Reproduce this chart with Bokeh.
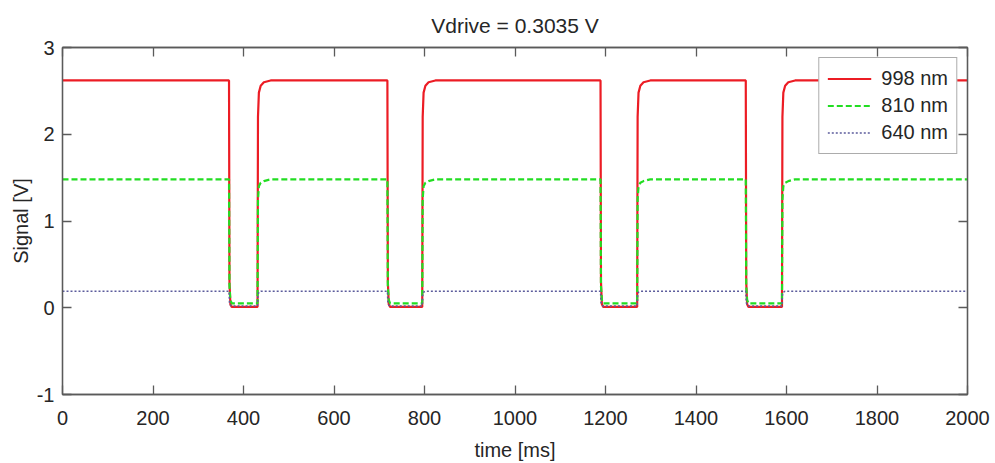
from bokeh.plotting import figure
from bokeh.models import Range1d, LinearAxis, FixedTicker, Legend, LegendItem
from bokeh.embed import file_html
from bokeh.resources import INLINE

# ---- data ----
t_ms = [0,
        368, 369, 371, 374, 431, 432, 434, 438, 445, 460,
        718, 719, 721, 724, 795, 796, 798, 802, 809, 824,
        1189, 1190, 1192, 1195, 1270, 1271, 1273, 1277, 1284, 1299,
        1510, 1511, 1513, 1516, 1590, 1591, 1593, 1597, 1604, 1619,
        2000]
sig_998 = [2.62,
           2.62, 0.30, 0.04, 0.01, 0.01, 2.20, 2.48, 2.56, 2.60, 2.62,
           2.62, 0.30, 0.04, 0.01, 0.01, 2.20, 2.48, 2.56, 2.60, 2.62,
           2.62, 0.30, 0.04, 0.01, 0.01, 2.20, 2.48, 2.56, 2.60, 2.62,
           2.62, 0.30, 0.04, 0.01, 0.01, 2.20, 2.48, 2.56, 2.60, 2.62,
           2.62]
sig_810 = [1.48,
           1.48, 0.25, 0.09, 0.05, 0.05, 1.25, 1.40, 1.44, 1.46, 1.48,
           1.48, 0.25, 0.09, 0.05, 0.05, 1.25, 1.40, 1.44, 1.46, 1.48,
           1.48, 0.25, 0.09, 0.05, 0.05, 1.25, 1.40, 1.44, 1.46, 1.48,
           1.48, 0.25, 0.09, 0.05, 0.05, 1.25, 1.40, 1.44, 1.46, 1.48,
           1.48]
sig_640 = [0.19,
           0.19, 0.06, 0.03, 0.02, 0.02, 0.15, 0.18, 0.19, 0.19, 0.19,
           0.19, 0.06, 0.03, 0.02, 0.02, 0.15, 0.18, 0.19, 0.19, 0.19,
           0.19, 0.06, 0.03, 0.02, 0.02, 0.15, 0.18, 0.19, 0.19, 0.19,
           0.19, 0.06, 0.03, 0.02, 0.02, 0.15, 0.18, 0.19, 0.19, 0.19,
           0.19]
series_names = ["998 nm", "810 nm", "640 nm"]
x_ticks = [0, 200, 400, 600, 800, 1000, 1200, 1400, 1600, 1800, 2000]
y_ticks = [-1, 0, 1, 2, 3]
y_tick_labels = {-1: "-1", 0: "0", 1: "1", 2: "2", 3: "3"}

FONT = "Liberation Sans"
AX = "#5a5a5a"
TXT = "#262626"

p = figure(width=995, height=463, output_backend="svg", toolbar_location=None,
           x_range=Range1d(0, 2000), y_range=Range1d(-1, 3),
           min_border_left=62, min_border_right=28, min_border_top=47, min_border_bottom=67,
           background_fill_color="white", border_fill_color="white")
p.outline_line_color = AX
p.outline_line_width = 1.3
p.xgrid.visible = False
p.ygrid.visible = False

p.title.text = "Vdrive = 0.3035 V"
p.title.align = "center"
p.title.text_font = FONT
p.title.text_font_size = "21px"
p.title.text_font_style = "normal"
p.title.text_color = TXT
p.title.standoff = 22

def style_axis(ax):
    ax.axis_line_color = AX
    ax.axis_line_width = 1.3
    ax.major_tick_line_color = AX
    ax.major_tick_line_width = 1.3
    ax.major_tick_in = 9
    ax.major_tick_out = 0
    ax.minor_tick_line_color = None
    ax.major_label_text_font = FONT
    ax.major_label_text_color = TXT
    ax.major_label_text_font_size = "20px"

def mirror_axis(ax):
    # tick marks only (minor ticks at the major positions, no labels)
    ax.axis_line_color = AX
    ax.axis_line_width = 1.3
    ax.major_tick_line_color = None
    ax.minor_tick_line_color = AX
    ax.minor_tick_line_width = 1.3
    ax.minor_tick_in = 9
    ax.minor_tick_out = 0
    ax.major_label_standoff = 0

xa = p.xaxis[0]
xa.ticker = FixedTicker(ticks=x_ticks)
style_axis(xa)
xa.major_label_standoff = 16
xa.axis_label = "time [ms]"
xa.axis_label_text_font = FONT
xa.axis_label_text_font_size = "20px"
xa.axis_label_text_font_style = "normal"
xa.axis_label_text_color = TXT
xa.axis_label_standoff = 11

ya = p.yaxis[0]
ya.ticker = FixedTicker(ticks=y_ticks)
style_axis(ya)
ya.major_label_overrides = y_tick_labels
ya.major_label_standoff = 8
ya.axis_label = "Signal [V]"
ya.axis_label_text_font = FONT
ya.axis_label_text_font_size = "20px"
ya.axis_label_text_font_style = "normal"
ya.axis_label_text_color = TXT
ya.axis_label_standoff = 2

top = LinearAxis(ticker=FixedTicker(ticks=[], minor_ticks=x_ticks))
mirror_axis(top)
p.add_layout(top, "above")
right = LinearAxis(ticker=FixedTicker(ticks=[], minor_ticks=y_ticks))
mirror_axis(right)
p.add_layout(right, "right")

r1 = p.line(t_ms, sig_998, line_color="#ec1c24", line_width=2.2)
r2 = p.line(t_ms, sig_810, line_color="#22dd22", line_width=2.2, line_dash="6 3")
r3 = p.line(t_ms, sig_640, line_color="#5c5c9c", line_width=1.5, line_dash="2 2")

legend = Legend(items=[LegendItem(label=series_names[0], renderers=[r1]),
                       LegendItem(label=series_names[1], renderers=[r2]),
                       LegendItem(label=series_names[2], renderers=[r3])],
                location="top_right")
legend.margin = 10
legend.padding = 8
legend.spacing = 2
legend.label_height = 25
legend.glyph_height = 25
legend.glyph_width = 44
legend.label_standoff = 10
legend.label_text_font = FONT
legend.label_text_font_size = "20px"
legend.label_text_color = TXT
legend.border_line_color = AX
legend.border_line_width = 1.2
legend.background_fill_color = "white"
legend.background_fill_alpha = 1.0
p.add_layout(legend, "center")

open("out.html", "w").write(file_html(p, INLINE))
